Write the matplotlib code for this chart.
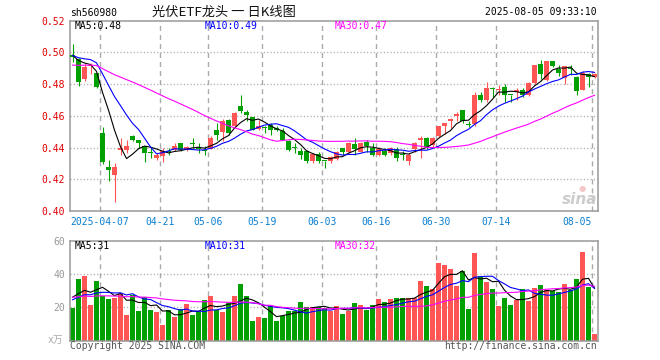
import matplotlib
matplotlib.use("Agg")
import matplotlib.pyplot as plt
import numpy as np
import pandas as pd

# daily candles sh560980, 2025-03-28 .. 2025-08-05 (88 trading days)
opens = [0.4985, 0.496, 0.483, 0.4915, 0.4868, 0.4495, 0.428, 0.423, 0.4383, 0.4382,
         0.4474, 0.4449, 0.4407, 0.4368, 0.4334, 0.4345, 0.4378, 0.4382, 0.4428, 0.4386,
         0.4424, 0.4397, 0.4385, 0.4394, 0.4513, 0.4496, 0.4575, 0.4533, 0.4665, 0.4627,
         0.4592, 0.4517, 0.4525, 0.4544, 0.4523, 0.4502, 0.4444, 0.4400, 0.4381, 0.4377,
         0.4315, 0.4362, 0.4317, 0.4313, 0.4327, 0.4396, 0.4371, 0.4423, 0.4375, 0.4435,
         0.4396, 0.4354, 0.4381, 0.4365, 0.439, 0.4358, 0.4315, 0.439, 0.4448, 0.4463,
         0.4415, 0.4473, 0.4535, 0.4567, 0.4598, 0.4635, 0.4548, 0.4546, 0.4731, 0.47,
         0.4775, 0.4765, 0.4779, 0.4733, 0.4752, 0.4763, 0.4731, 0.4804, 0.4925, 0.4825,
         0.4946, 0.4894, 0.4838, 0.4902, 0.4843, 0.4765, 0.4864, 0.4848]
highs = [0.505, 0.4965, 0.493, 0.4935, 0.487, 0.4529, 0.432, 0.4303, 0.4462, 0.445,
         0.448, 0.4449, 0.4412, 0.4397, 0.4365, 0.4397, 0.4397, 0.4428, 0.443, 0.4407,
         0.4459, 0.4428, 0.4408, 0.4471, 0.4554, 0.458, 0.4577, 0.4627, 0.4731, 0.4638,
         0.4594, 0.4575, 0.4533, 0.4554, 0.4533, 0.4523, 0.445, 0.4429, 0.4398, 0.4383,
         0.4367, 0.4371, 0.4318, 0.4344, 0.4381, 0.4396, 0.4433, 0.4458, 0.4438, 0.4448,
         0.4427, 0.4402, 0.4396, 0.4402, 0.4402, 0.4381, 0.4365, 0.4433, 0.4473, 0.4469,
         0.4469, 0.4537, 0.4558, 0.4585, 0.4625, 0.4638, 0.4565, 0.4752, 0.4752, 0.4815,
         0.4779, 0.4794, 0.4798, 0.4733, 0.4773, 0.4773, 0.4815, 0.4919, 0.4954, 0.4946,
         0.4946, 0.4921, 0.4915, 0.4921, 0.4852, 0.4885, 0.4869, 0.4869]
lows = [0.494, 0.479, 0.482, 0.4864, 0.4774, 0.4298, 0.419, 0.4058, 0.4355, 0.4366,
        0.444, 0.440, 0.4307, 0.4334, 0.4322, 0.4307, 0.4355, 0.438, 0.4376, 0.4376,
        0.4397, 0.4366, 0.4356, 0.4388, 0.4446, 0.444, 0.4481, 0.4529, 0.4617, 0.4565,
        0.4508, 0.4512, 0.4492, 0.4481, 0.4502, 0.4446, 0.4377, 0.4367, 0.4325, 0.4304,
        0.4304, 0.4304, 0.4273, 0.4302, 0.4323, 0.4354, 0.4365, 0.4354, 0.4369, 0.4375,
        0.4348, 0.4348, 0.4348, 0.4354, 0.4313, 0.4319, 0.4292, 0.4375, 0.4337, 0.439,
        0.4402, 0.4469, 0.4485, 0.4521, 0.457, 0.4558, 0.4529, 0.4538, 0.469, 0.469,
        0.4721, 0.4731, 0.469, 0.469, 0.47, 0.4721, 0.4725, 0.4798, 0.4835, 0.4821,
        0.4908, 0.4852, 0.480, 0.4858, 0.4733, 0.4760, 0.4785, 0.4840]
closes = [0.497, 0.4816, 0.491, 0.4922, 0.4785, 0.4307, 0.4257, 0.428, 0.4397, 0.4412,
          0.4445, 0.4428, 0.4365, 0.4363, 0.4355, 0.4376, 0.4372, 0.4412, 0.4386, 0.4401,
          0.4420, 0.4392, 0.4380, 0.446, 0.4481, 0.4565, 0.4492, 0.4617, 0.4631, 0.4606,
          0.4513, 0.4533, 0.4521, 0.4512, 0.4512, 0.445, 0.4383, 0.4396, 0.4356, 0.4315,
          0.4362, 0.4315, 0.4313, 0.434, 0.4375, 0.4369, 0.4427, 0.439, 0.4431, 0.441,
          0.4354, 0.439, 0.4354, 0.4396, 0.4333, 0.4354, 0.4356, 0.4429, 0.4463, 0.4401,
          0.4463, 0.4535, 0.4556, 0.4581, 0.4614, 0.4567, 0.4544, 0.4733, 0.47, 0.4777,
          0.4771, 0.4769, 0.4731, 0.4729, 0.4762, 0.4731, 0.4804, 0.4919, 0.4863, 0.4946,
          0.4913, 0.4869, 0.4913, 0.4898, 0.4754, 0.4873, 0.4848, 0.4862]
volumes = [19.7, 37, 38.8, 21.3, 35.8, 27, 25, 25.8, 28, 15.3,
           27.4, 17.7, 26.2, 18.3, 17.1, 9.3, 18.3, 14.1, 18.9, 21.9,
           15.3, 17.1, 24.3, 26.8, 18.3, 17.1, 22.5, 26.8, 34, 26.8,
           11.7, 14.1, 13.5, 20.7, 11.7, 14.7, 17.7, 17.7, 23.1, 20.1,
           20.1, 20.1, 19.3, 17.9, 20.7, 16.1, 17.7, 22.3, 21.3, 18.3,
           21.3, 24.9, 23.1, 24.9, 25.6, 25.6, 25.6, 25.6, 35.8, 32.8,
           31, 46.6, 45.4, 43, 32.8, 41.8, 18.9, 52.6, 38.8, 35.2,
           31, 20.7, 25.6, 21.3, 24.3, 31, 23.7, 31.6, 33.5, 30.4,
           29.8, 29.2, 34, 30.5, 37, 53.5, 32, 3.9]

# days before the visible window (estimated), only used to seed the moving averages
pre_closes = [0.486, 0.488, 0.490, 0.489, 0.487, 0.485, 0.484, 0.486, 0.488, 0.490,
              0.491, 0.489, 0.488, 0.490, 0.492, 0.491, 0.489, 0.490, 0.492, 0.494,
              0.496, 0.498, 0.497, 0.499, 0.500, 0.498, 0.499, 0.497, 0.500]
pre_volumes = [28, 25, 30, 27, 24, 26, 29, 31, 25, 23, 27, 28, 26, 24, 27, 30, 26, 25, 27, 27,
               22, 24, 21, 25, 23, 26, 29, 27, 28.3]

tick_idx = [5, 15, 23, 32, 42, 51, 61, 71, 87]
tick_labels = ["2025-04-07", "04-21", "05-06", "05-19", "06-03", "06-16", "06-30", "07-14", "08-05"]

RED = "#ff5555"
GREEN = "#00a000"
GRID = "#aaaaaa"
SPINE = "#999999"
MONO = "DejaVu Sans Mono"

n = len(closes)
x = np.arange(n)
w = 5 / 6
o = np.array(opens)
c = np.array(closes)
up = c >= o
cols = [RED if u else GREEN for u in up]

cs = pd.Series(pre_closes + closes)
vs = pd.Series(pre_volumes + volumes)
ma = {k: cs.rolling(k).mean().values[-n:] for k in (5, 10, 30)}
vma = {k: vs.rolling(k).mean().values[-n:] for k in (5, 10, 30)}

plt.rcParams["lines.scale_dashes"] = False
fig = plt.figure(figsize=(6.6, 3.6), dpi=100)
W, H = 660, 360
ax = fig.add_axes([70 / W, 1 - 211 / H, 527.5 / W, 190.3 / H])
axv = fig.add_axes([70 / W, 1 - 340.5 / H, 527.5 / W, 99.8 / H])

grid_x = np.array(tick_idx) - 5 / 12
for a in (ax, axv):
    a.set_xlim(-5 / 12, n - 0.5)
    for s in a.spines.values():
        s.set_color(SPINE)
        s.set_linewidth(1.1)
    for gx in grid_x:
        a.axvline(gx, color=GRID, lw=1.0, ls=(0, (3.6, 2.9)), zorder=0)
    a.set_xticks([])
    a.tick_params(axis="y", length=0, pad=3.4)

# candles
body_lo = np.minimum(o, c)
body_h = np.maximum(np.abs(c - o), 0.0006)
ax.vlines(x, lows, highs, colors=cols, lw=0.8, zorder=2)
ax.bar(x, body_h, bottom=body_lo, width=w, color=cols, linewidth=0, zorder=3)
ax.plot(x, ma[5], color="black", lw=0.8, zorder=4)
ax.plot(x, ma[10], color="#0000ff", lw=0.8, zorder=4)
ax.plot(x, ma[30], color="#ff00ff", lw=0.8, zorder=4)

ax.set_ylim(0.40, 0.52)
yt = [0.40, 0.42, 0.44, 0.46, 0.48, 0.50, 0.52]
ax.set_yticks(yt)
ax.set_yticklabels([f"{v:.2f}" for v in yt], color="#e00000", fontsize=7, family=MONO)
for v in yt[1:-1]:
    ax.axhline(v, color=GRID, lw=1.0, ls=(0, (0.8, 1.6)), zorder=0)

for gx, lab in zip(grid_x, tick_labels):
    ha = "right" if lab == tick_labels[-1] else "center"
    ax.text(gx, -0.056, lab, transform=ax.get_xaxis_transform(), ha=ha, va="center",
            color="#0a7fd0", fontsize=7, family=MONO)

# volume
axv.bar(x, volumes, width=w, color=cols, linewidth=0, zorder=2)
axv.plot(x, vma[5], color="black", lw=0.8, zorder=4)
axv.plot(x, vma[10], color="#0000ff", lw=0.8, zorder=4)
axv.plot(x, vma[30], color="#ff00ff", lw=0.8, zorder=4)
axv.set_ylim(0, 60)
axv.set_yticks([20, 40, 60])
axv.set_yticklabels(["20", "40", "60"], color="#999999", fontsize=7, family=MONO)
for v in (20, 40):
    axv.axhline(v, color=GRID, lw=1.0, ls=(0, (0.8, 1.6)), zorder=0)


def ftext(px, py, s, **kw):
    kw.setdefault("family", MONO)
    kw.setdefault("fontsize", 7)
    fig.text(px / W, 1 - py / H, s, va="center", **kw)


ftext(70, 13, "sh560980", color="black")
ftext(224, 12, "光伏ETF龙头 一 日K线图", ha="center", fontsize=9.5,
      family=["Noto Sans CJK SC", "DejaVu Sans"], color="#111111")
ftext(597, 12, "2025-08-05 09:33:10", ha="right", color="black")

ftext(75, 26, "MA5:0.48", color="black")
ftext(205, 26, "MA10:0.49", color="#0000ff")
ftext(335, 26, "MA30:0.47", color="#ff00ff")
ftext(75, 246, "MA5:31", color="black")
ftext(205, 246, "MA10:31", color="#0000ff")
ftext(335, 246, "MA30:32", color="#ff00ff")

ftext(63, 340, "x万", ha="right", color="#aaaaaa", family=["DejaVu Sans Mono", "Noto Sans CJK SC"])
ftext(70, 346, "Copyright 2025 SINA.COM", color="#555555")
ftext(597, 346, "http://finance.sina.com.cn", ha="right", color="#555555")

# sina watermark
ftext(580, 199, "sina", ha="center", fontsize=11, family="DejaVu Sans",
      style="italic", weight="bold", color="#cccccc")
ftext(582, 188, "●", ha="center", fontsize=6, family="DejaVu Sans", color="#f4c8c8")

fig.savefig("out.png", dpi=100, facecolor="white")
